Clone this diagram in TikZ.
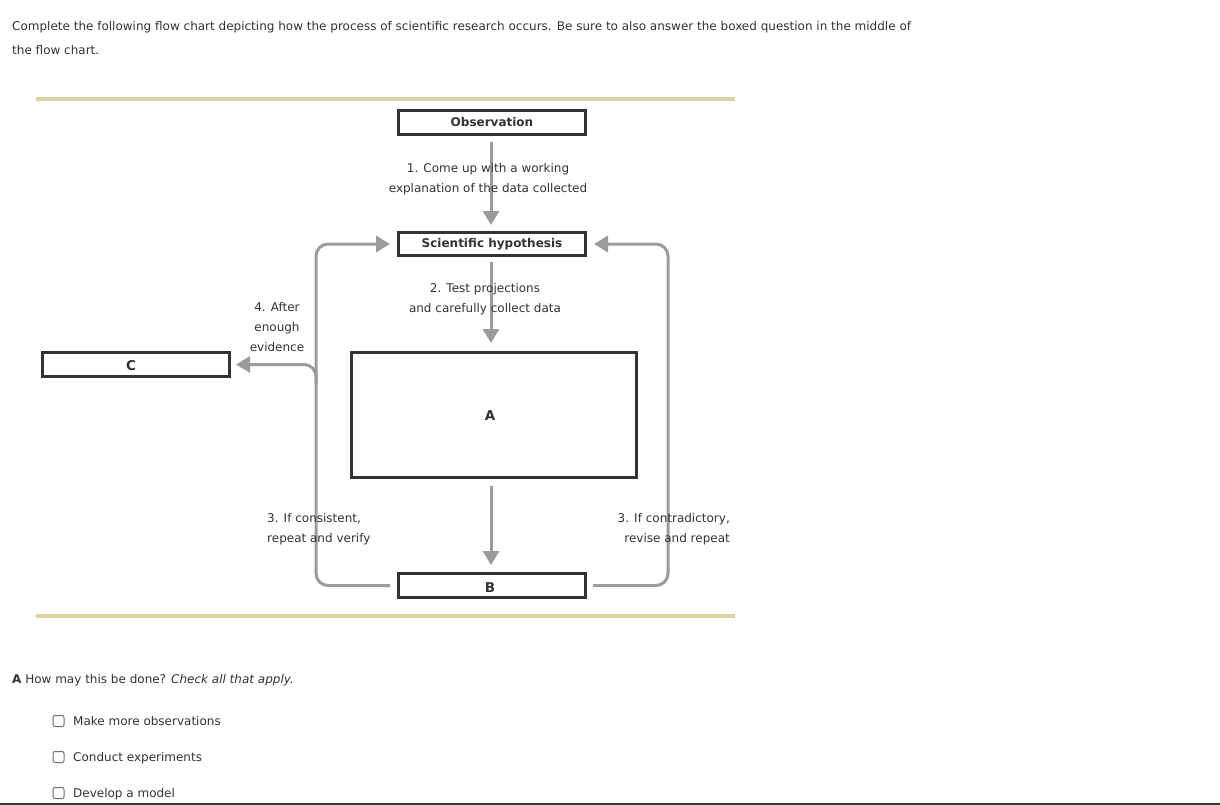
\documentclass[tikz,border=0pt]{standalone}
\usepackage{fontspec}
\setmainfont{DejaVu Sans}
\usetikzlibrary{arrows.meta,calc}
\definecolor{tanline}{HTML}{DCD2A4}
\definecolor{boxcol}{HTML}{333333}
\definecolor{arrcol}{HTML}{9B9B9B}
\definecolor{txtcol}{HTML}{333333}
\definecolor{barcol}{HTML}{2B3A46}
\definecolor{chkcol}{HTML}{6E6E6E}
\begin{document}
\begin{tikzpicture}[x=1pt,y=-1pt,
  every node/.style={inner sep=0pt, text=txtcol},
  txt/.style={font=\fontsize{12}{20}\selectfont, align=center},
  flowbox/.style={draw=boxcol, line width=3pt, minimum width=187pt, minimum height=24pt,
    font=\fontsize{12}{14}\selectfont\bfseries, fill=white},
  letter/.style={font=\fontsize{13.5}{14}\selectfont\bfseries},
  conn/.style={draw=arrcol, line width=3pt, -{Triangle[length=14pt,width=16pt]}, rounded corners=12pt},
  tanbar/.style={draw=tanline, line width=4pt},
  chk/.style={draw=chkcol, line width=1pt, rounded corners=2pt, minimum width=11pt, minimum height=11pt},
  plain/.style={font=\fontsize{12}{14}\selectfont, anchor=base west},
]
\useasboundingbox (0,0) rectangle (1220,805);
\fill[white] (0,0) rectangle (1220,805);

% header text
\node[plain] (title1) at (12,30.5)
  {Complete the following flow chart depicting how the process of scientific research occurs. Be sure to also answer the boxed question in the middle of};
\node[plain] (title2) at (12,54.5) {the flow chart.};

% tan bars
\coordinate (t1) at (36,99); \coordinate (t2) at (735,99);
\coordinate (t3) at (36,616); \coordinate (t4) at (735,616);
\draw[tanbar] (t1) -- (t2);
\draw[tanbar] (t3) -- (t4);

% boxes
\node[flowbox] (obs) at (492,122.5) {Observation};
\node[flowbox, minimum height=23pt] (hyp) at (492,244) {Scientific hypothesis};
\node[flowbox, minimum width=285pt, minimum height=125pt] (boxA) at (494,415) {};
\node[flowbox] (boxB) at (492,585.5) {};
\node[flowbox] (boxC) at (136,364.5) {};
\node[letter] (la) at (490,415.5) {A};
\node[letter] (lb) at (490,587.5) {B};
\node[letter] (lc) at (131,365.5) {C};

% vertical arrows
\draw[conn, shorten <=6pt, shorten >=6pt] ([xshift=-1pt]obs.south) -- ([xshift=-1pt]hyp.north);
\draw[conn, shorten <=5pt, shorten >=8pt] ([xshift=-1pt]hyp.south) -- ([xshift=-3pt]boxA.north);
\draw[conn, shorten <=7pt, shorten >=7pt] ([xshift=-3pt]boxA.south) -- ([xshift=-1pt]boxB.north);

% loops
\coordinate (lx) at (316,244);
\coordinate (rx) at (668,244);
\draw[conn, shorten <=7pt, shorten >=7pt] (boxB.west) -| (lx) -- (hyp.west);
\draw[conn, shorten <=6pt, shorten >=7pt] (boxB.east) -| (rx) -- (hyp.east);
\coordinate (br) at (316,384);
\draw[conn, shorten >=5pt] (br) |- (boxC.east);

% labels
\node[txt] (l1) at (488,179) {1. Come up with a working\\explanation of the data collected};
\node[txt] (l2) at (485,299) {2. Test projections\\and carefully collect data};
\node[txt] (l4) at (277,327) {4. After\\enough\\evidence};
\node[txt, align=left, anchor=west] (l3a) at (267,529) {3. If consistent,\\repeat and verify};
\node[txt, align=right, anchor=east] (l3b) at (730,529) {3. If contradictory,\\revise and repeat};

% question
\node[plain] (q) at (12,683.5)
  {\textbf{A} How may this be done? \textit{Check all that apply.}};
\node[chk] (c1) at (58.5,721) {};
\node[chk] (c2) at (58.5,757) {};
\node[chk] (c3) at (58.5,793) {};
\node[plain] (o1) at (73,725.5) {Make more observations};
\node[plain] (o2) at (73,761.5) {Conduct experiments};
\node[plain] (o3) at (73,797.5) {Develop a model};

% bottom bar
\coordinate (b1) at (0,804); \coordinate (b2) at (1220,804);
\draw[barcol, line width=2pt] (b1) -- (b2);
\end{tikzpicture}
\end{document}
